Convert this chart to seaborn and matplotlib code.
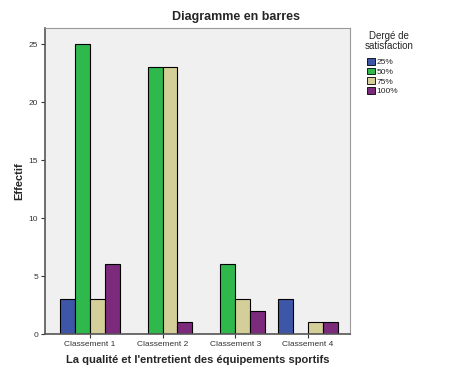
import numpy as np
import pandas as pd
import seaborn as sns
from matplotlib import pyplot as plt

# Bar values (NaN = no bar)
categories = ["Classement 1", "Classement 2", "Classement 3", "Classement 4"]
levels = ["25%", "50%", "75%", "100%"]
counts_25 = [3, np.nan, np.nan, 3]
counts_50 = [25, 23, 6, np.nan]
counts_75 = [3, 23, 3, 1]
counts_100 = [6, 1, 2, 1]
y_ticks = [0, 5, 10, 15, 20, 25]

df = pd.DataFrame({
    "classement": categories * 4,
    "niveau": [lv for lv in levels for _ in categories],
    "effectif": counts_25 + counts_50 + counts_75 + counts_100,
}).dropna()

sns.set_style("white")
plt.rcParams["font.family"] = ["Liberation Sans", "DejaVu Sans"]

palette = {"25%": "#3d56a8", "50%": "#2fb84c", "75%": "#d4cf98", "100%": "#7b2a7c"}

fig = plt.figure(figsize=(4.71, 3.78), dpi=100)
ax = fig.add_axes([0.0955, 0.1164, 0.6475, 0.8096])
ax.set_facecolor("#f0f0f0")

sns.barplot(data=df, x="classement", y="effectif", hue="niveau",
            order=categories, hue_order=levels, palette=palette,
            width=0.82, gap=0, saturation=1, edgecolor="black",
            linewidth=0.8, errorbar=None, ax=ax)

ax.set_xlim(-0.62, 3.58)
ax.set_ylim(0, 26.4)
ax.set_yticks(y_ticks)
ax.tick_params(axis="both", labelsize=6, length=3, width=0.8, pad=2,
               colors="#333333", direction="out", left=True, bottom=True)
fig.text(0.5, 0.955, "Diagramme en barres", ha="center", va="center",
         fontsize=9, fontweight="bold")
ax.set_xlabel("La qualité et l'entretient des équipements sportifs",
              fontsize=8, fontweight="bold", labelpad=5)
ax.set_ylabel("Effectif", fontsize=8, fontweight="bold", labelpad=3)

for side in ["left", "bottom"]:
    ax.spines[side].set_color("#555555")
    ax.spines[side].set_linewidth(1.2)
for side in ["top", "right"]:
    ax.spines[side].set_color("#999999")
    ax.spines[side].set_linewidth(0.8)

fig.text(389 / 471, 1 - 41 / 378, "Dergé de\nsatisfaction", ha="center",
         va="center", fontsize=7, linespacing=1.1)
leg = ax.legend(loc="upper left", bbox_to_anchor=(367 / 471, 1 - 58 / 378),
                bbox_transform=fig.transFigure, frameon=False, fontsize=6,
                handlelength=0.9, handleheight=0.9, handletextpad=0.2,
                labelspacing=0.15, borderaxespad=0, borderpad=0)
for h in leg.legend_handles:
    h.set_edgecolor("black")
    h.set_linewidth(0.6)

fig.savefig("out.png", dpi=100)
